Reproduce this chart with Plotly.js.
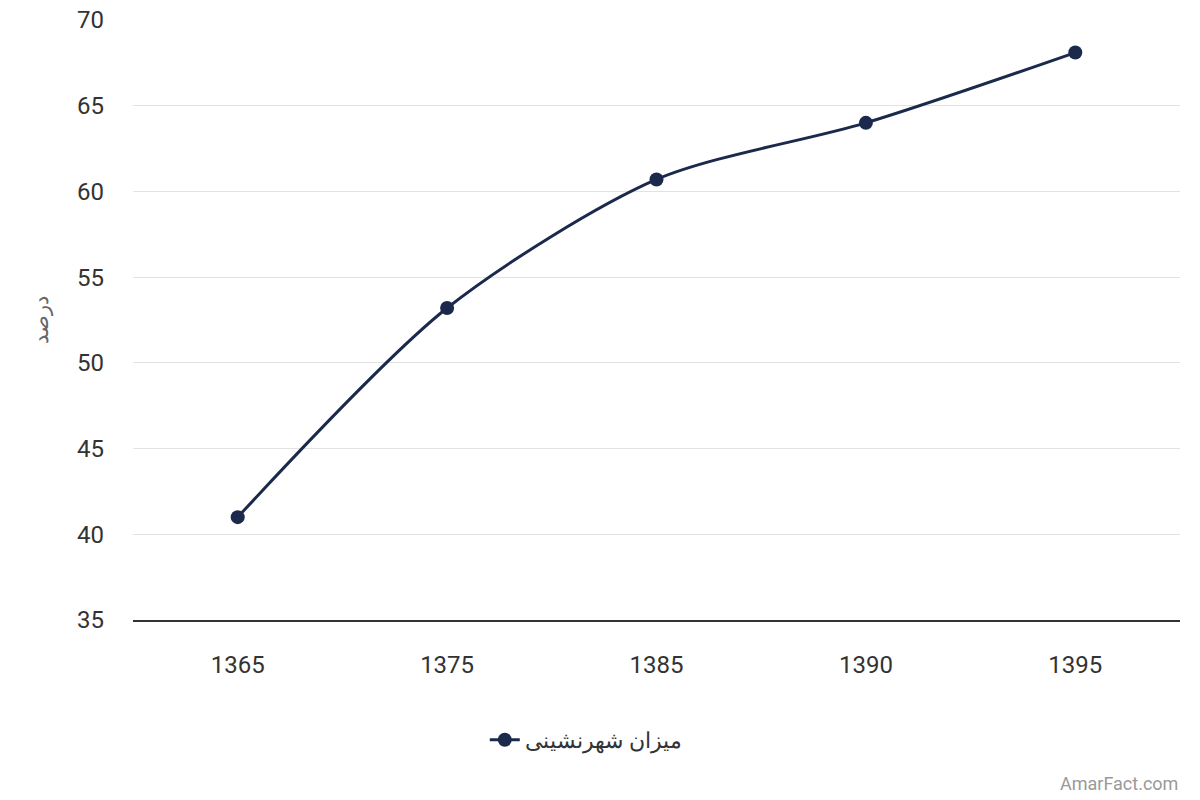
<!DOCTYPE html>
<html>
<head>
<meta charset="utf-8">
<script src="https://cdn.plot.ly/plotly-3.0.1.min.js"></script>
<style>
  html, body { margin: 0; padding: 0; background: #fff; }
  #urban-plot { width: 1200px; height: 800px; }
</style>
</head>
<body>
<div id="urban-plot"></div>
<script>
// years (Persian calendar) and urbanisation rate (%)
var years = ['1365', '1375', '1385', '1390', '1395'];
var urbanRate = [41.0, 53.2, 60.7, 64.0, 68.1];
var seriesName = 'میزان شهرنشینی';
var yTitle = 'درصد';
var yTicks = [35, 40, 45, 50, 55, 60, 65, 70];

function init_urban_plot(){
    var trace1 = {
      x: years,
      y: urbanRate,
      type: 'scatter',
      mode: 'lines+markers',
      name: seriesName,
      line: { color: '#1b2a4c', width: 3, shape: 'spline', smoothing: 0.8 },
      marker: { color: '#1b2a4c', size: 14 }
    };

    var layout = {
        showlegend: true,
        width: 1200,
        height: 800,
        paper_bgcolor: '#ffffff',
        plot_bgcolor: '#ffffff',
        font: { family: 'Roboto, sans-serif', color: '#333333' },
        margin: { l: 133, r: 20, t: 20, b: 180 },
        xaxis: {
            type: 'category',
            range: [-0.5, 4.5],
            showgrid: false,
            showline: true,
            linecolor: '#333333',
            linewidth: 1.5,
            ticks: '',
            tickfont: { size: 24, color: '#333333' },
            ticklabelstandoff: 22
        },
        yaxis: {
            range: [35, 70],
            tickvals: yTicks,
            showgrid: true,
            gridcolor: '#e2e2e2',
            gridwidth: 1,
            zeroline: false,
            showline: false,
            ticks: '',
            tickfont: { size: 24, color: '#333333' },
            ticklabelstandoff: 28,
            title: {
                text: yTitle,
                font: { size: 21, color: '#666666', family: 'Noto Sans, sans-serif' },
                standoff: 22
            }
        },
        legend: {
            orientation: 'h',
            x: 0.336,
            y: -0.165,
            xanchor: 'left',
            yanchor: 'top',
            font: { size: 22, color: '#333333', family: 'Noto Sans, sans-serif' }
        },
        annotations: [{
            text: 'AmarFact.com',
            xref: 'paper', yref: 'paper',
            x: 1.0, y: -0.252,
            xanchor: 'right', yanchor: 'top',
            showarrow: false,
            font: { size: 18, color: '#999999' }
        }]
    };

    Plotly.newPlot('urban-plot', [trace1], layout, { displayModeBar: false });
}

init_urban_plot();
</script>
</body>
</html>
